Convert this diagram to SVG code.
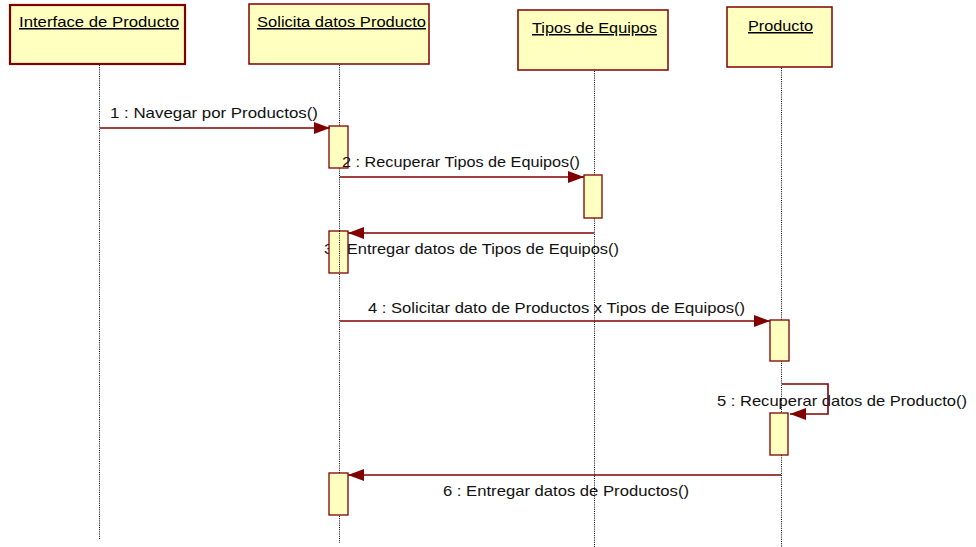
<svg xmlns="http://www.w3.org/2000/svg" width="976" height="547" viewBox="0 0 976 547">
  <style>
    .obj { fill: #ffffc0; stroke: #800000; stroke-width: 1.5; }
    .obj-main { fill: #ffffc0; stroke: #800000; stroke-width: 2.2; }
    .act { fill: #ffffc0; stroke: #800000; stroke-width: 1.3; }
    .life { stroke: #000; stroke-width: 1; stroke-dasharray: 1 1.2; fill: none; }
    .msg { stroke: #800000; stroke-width: 1.6; fill: none; marker-end: url(#head); }
    .title { font-family: "Liberation Sans", Arial, sans-serif; font-size: 15px; fill: #000; text-decoration: underline; }
    .lbl { font-family: "Liberation Sans", Arial, sans-serif; font-size: 15px; fill: #111; }
  </style>
  <defs>
    <marker id="head" markerUnits="userSpaceOnUse" markerWidth="18" markerHeight="14" refX="16" refY="7" orient="auto">
      <path d="M0,1 L16,7 L0,13 Z" fill="#800000"/>
    </marker>
  </defs>

  <rect width="976" height="547" fill="#fff"/>

  <!-- message labels (lifelines are drawn over them) -->
  <g id="labels">
    <text class="lbl" x="110" y="118" textLength="208" lengthAdjust="spacingAndGlyphs">1 : Navegar por Productos()</text>
    <text class="lbl" x="324" y="254" textLength="295" lengthAdjust="spacingAndGlyphs">3 : Entregar datos de Tipos de Equipos()</text>
    <text class="lbl" x="368" y="313" textLength="377" lengthAdjust="spacingAndGlyphs">4 : Solicitar dato de Productos  x Tipos de Equipos()</text>
    <text class="lbl" x="717" y="406" textLength="250" lengthAdjust="spacingAndGlyphs">5 : Recuperar datos de Producto()</text>
    <text class="lbl" x="443" y="496" textLength="246" lengthAdjust="spacingAndGlyphs">6 : Entregar datos de  Productos()</text>
  </g>

  <g id="interface-producto">
    <rect class="obj-main" x="10" y="5" width="175" height="59"/>
    <text class="title" x="19" y="27" textLength="160" lengthAdjust="spacingAndGlyphs">Interface de Producto</text>
    <line class="life" x1="99.5" y1="65" x2="99.5" y2="540"/>
  </g>

  <g id="solicita-datos-producto">
    <rect class="obj" x="249" y="4" width="180" height="60"/>
    <text class="title" x="257" y="27" textLength="169" lengthAdjust="spacingAndGlyphs">Solicita datos Producto</text>
    <line class="life" x1="339.5" y1="65" x2="339.5" y2="543"/>
    <rect class="act" x="329" y="126" width="19" height="42"/>
    <rect class="act" x="329" y="231" width="19" height="42"/>
    <line class="life" x1="339.5" y1="231" x2="339.5" y2="273"/>
    <rect class="act" x="329" y="473" width="19" height="42"/>
  </g>

  <g id="tipos-de-equipos">
    <rect class="obj" x="518" y="10" width="150" height="60"/>
    <text class="title" x="532" y="33" textLength="125" lengthAdjust="spacingAndGlyphs">Tipos de Equipos</text>
    <line class="life" x1="594.5" y1="71" x2="594.5" y2="547"/>
    <rect class="act" x="584" y="175" width="18" height="43"/>
  </g>

  <g id="producto">
    <rect class="obj" x="727" y="7" width="105" height="60"/>
    <text class="title" x="748" y="31" textLength="65" lengthAdjust="spacingAndGlyphs">Producto</text>
    <line class="life" x1="781.5" y1="68" x2="781.5" y2="547"/>
    <rect class="act" x="770" y="320" width="19" height="41"/>
    <rect class="act" x="770" y="413" width="18" height="42"/>
  </g>

  <!-- messages -->
  <g id="connectors">
    <line class="msg" x1="100" y1="128" x2="330" y2="128"/>
    <line class="msg" x1="340" y1="177" x2="584" y2="177"/>
    <text class="lbl" x="342" y="167" textLength="238" lengthAdjust="spacingAndGlyphs">2 : Recuperar Tipos de Equipos()</text>
    <line class="msg" x1="594" y1="233" x2="348" y2="233"/>
    <line class="msg" x1="340" y1="321" x2="770" y2="321"/>
    <polyline class="msg" points="782,384 828,384 828,414 790,414"/>
    <line class="msg" x1="781" y1="475" x2="348" y2="475"/>
  </g>
</svg>
